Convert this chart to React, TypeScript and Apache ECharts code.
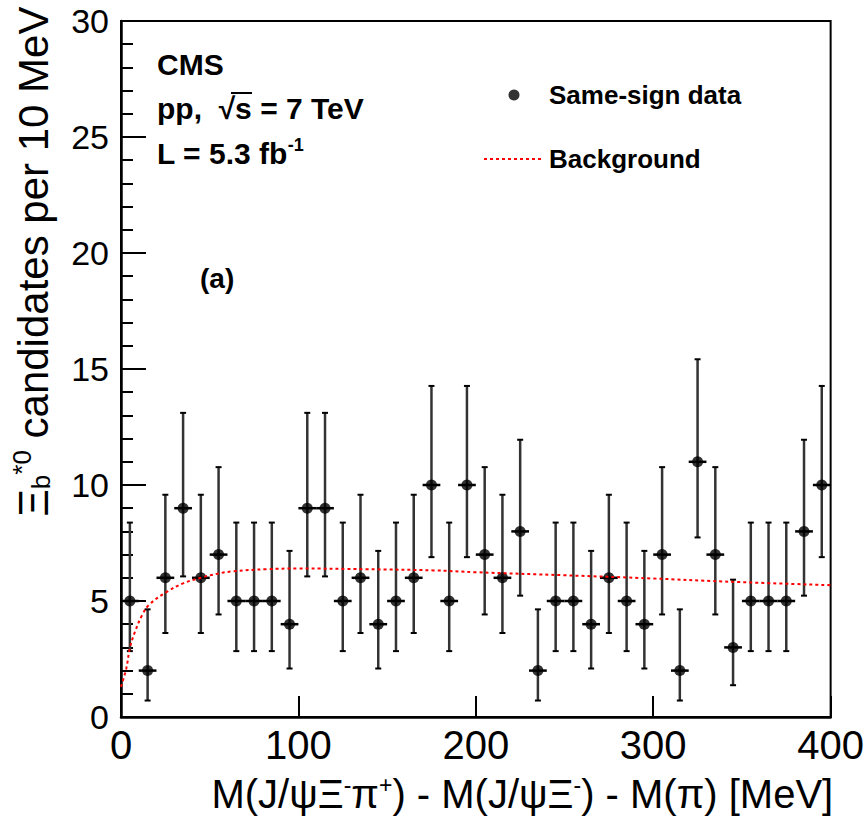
import React, { useEffect, useRef } from "react";
import * as echarts from "echarts";

// Bin centres (MeV) and counts per 10 MeV bin (same-sign data)
const binCenters = [
  5, 15, 25, 35, 45, 55, 65, 75, 85, 95,
  105, 115, 125, 135, 145, 155, 165, 175, 185, 195,
  205, 215, 225, 235, 245, 255, 265, 275, 285, 295,
  305, 315, 325, 335, 345, 355, 365, 375, 385, 395,
];
const counts = [
  5, 2, 6, 9, 6, 7, 5, 5, 5, 4,
  9, 9, 5, 6, 4, 5, 6, 10, 5, 10,
  7, 6, 8, 2, 5, 5, 4, 6, 5, 4,
  7, 2, 11, 7, 3, 5, 5, 5, 8, 10,
];
// Lower and upper ends of the vertical error bars
const errLow = [
  2.84, 0.71, 3.62, 6.06, 3.62, 4.42, 2.84, 2.84, 2.84, 2.09,
  6.06, 6.06, 2.84, 3.62, 2.09, 2.84, 3.62, 6.89, 2.84, 6.89,
  4.42, 3.62, 5.23, 0.71, 2.84, 2.84, 2.09, 3.62, 2.84, 2.09,
  4.42, 0.71, 7.74, 4.42, 1.37, 2.84, 2.84, 2.84, 5.23, 6.89,
];
const errHigh = [
  8.38, 4.64, 9.58, 13.11, 9.58, 10.77, 8.38, 8.38, 8.38, 7.16,
  13.11, 13.11, 8.38, 9.58, 7.16, 8.38, 9.58, 14.27, 8.38, 14.27,
  10.77, 9.58, 11.95, 4.64, 8.38, 8.38, 7.16, 9.58, 8.38, 7.16,
  10.77, 4.64, 15.42, 10.77, 5.92, 8.38, 8.38, 8.38, 11.95, 14.27,
];
const binWidth = 10;

// Background curve
const bgMass = [0, 3, 5, 8, 12, 16, 26, 35, 45, 54, 63, 82, 100, 138, 176, 200, 250, 300, 340, 400];
const bgCounts = [1.3, 2.1, 2.97, 3.7, 4.4, 4.85, 5.4, 5.76, 6.0, 6.17, 6.28, 6.37, 6.4, 6.37, 6.32, 6.24, 6.11, 5.97, 5.84, 5.68];

const FONT = "'Liberation Sans', Arial, Helvetica, sans-serif";

export default function App() {
  const ref = useRef<HTMLDivElement>(null);

  useEffect(() => {
    if (!ref.current) return;
    const chart = echarts.init(ref.current, undefined, { renderer: "svg" });
    const half = binWidth / 2;
    const errData = binCenters.map((c, i) => [c, counts[i], errLow[i], errHigh[i]]);

    chart.setOption({
      animation: false,
      backgroundColor: "#fff",
      textStyle: { fontFamily: FONT, color: "#000" },
      grid: {
        left: 121, right: 36, top: 21, bottom: 101,
        show: true, borderColor: "#000", borderWidth: 2, backgroundColor: "transparent",
      },
      legend: {
        orient: "vertical",
        left: 478,
        top: 75,
        itemWidth: 60,
        itemHeight: 11,
        itemGap: 34,
        selectedMode: false,
        textStyle: { fontSize: 26, fontWeight: "bold", color: "#000", lineHeight: 30, fontFamily: FONT },
        data: [
          { name: "Same-sign data", icon: "circle" },
          { name: "Background", itemStyle: { opacity: 0 } },
        ],
      },
      xAxis: {
        type: "value",
        min: 0, max: 400, interval: 100,
        axisLine: { show: true, lineStyle: { color: "#000", width: 2.5 } },
        axisTick: { show: true, inside: true, length: 21, lineStyle: { color: "#000", width: 2 } },
        axisLabel: { fontSize: 40, color: "#000", margin: 8, fontFamily: FONT },
        splitLine: { show: false },
        name: "M(J/ψΞ{sup|-}π{sup|+}) - M(J/ψΞ{sup|-}) - M(π) [MeV]",
        nameLocation: "middle",
        nameGap: 56,
        nameTextStyle: {
          fontSize: 40, color: "#000", fontFamily: FONT, lineHeight: 42,
          padding: [0, 0, 0, 93],
          rich: { sup: { fontSize: 23, padding: [0, 0, 18, 0], fontFamily: FONT, color: "#000" } },
        },
      },
      yAxis: {
        type: "value",
        min: 0, max: 30, interval: 5,
        axisLine: { show: true, lineStyle: { color: "#000", width: 2.5 } },
        axisTick: { show: true, inside: true, length: 25, lineStyle: { color: "#000", width: 2 } },
        minorTick: { show: true, splitNumber: 5, length: 12, lineStyle: { color: "#000", width: 2 } },
        axisLabel: { fontSize: 34, color: "#000", margin: 12, fontFamily: FONT },
        splitLine: { show: false },
        minorSplitLine: { show: false },
        name: "Ξ{sub|b}{sup|*0} candidates per 10 MeV",
        nameLocation: "middle",
        nameGap: 66,
        nameTextStyle: {
          fontSize: 42, color: "#000", fontFamily: FONT, lineHeight: 44,
          padding: [0, 0, 0, 215],
          rich: {
            sub: { fontSize: 26, padding: [16, 0, 0, 0], fontFamily: FONT, color: "#000" },
            sup: { fontSize: 26, padding: [0, 0, 22, 0], fontFamily: FONT, color: "#000" },
          },
        },
      },
      graphic: [
        { type: "text", x: 157, y: 64, style: { text: "CMS", fontSize: 30, fontWeight: "bold", fontFamily: FONT, fill: "#000", verticalAlign: "middle" } },
        { type: "text", x: 157, y: 108, style: { text: "pp,  √s = 7 TeV", fontSize: 30, fontWeight: "bold", fontFamily: FONT, fill: "#000", verticalAlign: "middle" } },
        { type: "line", shape: { x1: 231, y1: 93, x2: 252, y2: 93 }, style: { stroke: "#000", lineWidth: 2 } },
        {
          type: "text", x: 157, y: 153,
          style: {
            text: "L = 5.3 fb{sup|-1}", fontSize: 30, fontWeight: "bold", fontFamily: FONT, fill: "#000", verticalAlign: "middle",
            rich: { sup: { fontSize: 18, fontWeight: "bold", fontFamily: FONT, fill: "#000", padding: [0, 0, 16, 0] } },
          },
        },
        { type: "text", x: 200, y: 278, style: { text: "(a)", fontSize: 28, fontWeight: "bold", fontFamily: FONT, fill: "#000", verticalAlign: "middle" } },
      ],
      series: [
        {
          name: "errors",
          type: "custom",
          data: errData,
          encode: { x: 0, y: 1 },
          silent: true,
          z: 3,
          renderItem: (params: any, api: any) => {
            const x = api.value(0);
            const y = api.value(1);
            const lo = api.value(2);
            const hi = api.value(3);
            const top = api.coord([x, hi]);
            const bot = api.coord([x, lo]);
            const l = api.coord([x - half, y]);
            const r = api.coord([x + half, y]);
            const cap = 3;
            return {
              type: "group",
              children: [
                { type: "line", shape: { x1: top[0], y1: top[1], x2: bot[0], y2: bot[1] }, style: { stroke: "#333", lineWidth: 2.5 } },
                { type: "line", shape: { x1: top[0] - cap, y1: top[1], x2: top[0] + cap, y2: top[1] }, style: { stroke: "#000", lineWidth: 2 } },
                { type: "line", shape: { x1: bot[0] - cap, y1: bot[1], x2: bot[0] + cap, y2: bot[1] }, style: { stroke: "#000", lineWidth: 2 } },
                { type: "line", shape: { x1: l[0], y1: l[1], x2: r[0], y2: r[1] }, style: { stroke: "#000", lineWidth: 2.5 } },
              ],
            };
          },
        },
        {
          name: "Same-sign data",
          type: "scatter",
          data: binCenters.map((c, i) => [c, counts[i]]),
          symbol: "circle",
          symbolSize: 11,
          itemStyle: { color: "#000" },
          z: 4,
        },
        {
          name: "Background",
          type: "line",
          data: bgMass.map((m, i) => [m, bgCounts[i]]),
          smooth: 0.4,
          symbol: "none",
          lineStyle: { color: "#ff0000", width: 2, type: [3, 3] },
          itemStyle: { color: "#ff0000" },
          z: 5,
        },
      ],
    });

    return () => chart.dispose();
  }, []);

  return <div ref={ref} style={{ position: "absolute", left: 0, top: 0, width: 867, height: 820 }} />;
}
